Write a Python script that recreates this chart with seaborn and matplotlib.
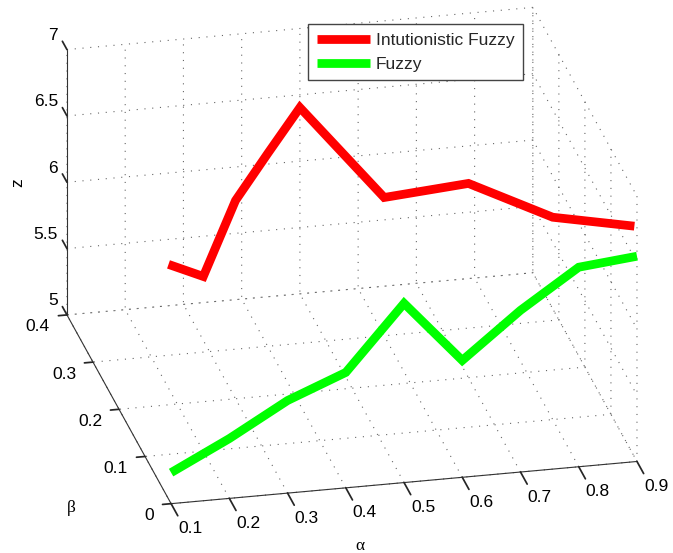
import pandas as pd
import matplotlib
matplotlib.use("Agg")
import matplotlib.pyplot as plt
from mpl_toolkits.mplot3d import proj3d
import seaborn as sns

alpha_fuzzy = [0.1, 0.2, 0.3, 0.4, 0.5, 0.6, 0.7, 0.8, 0.9]
beta_fuzzy = [0, 0, 0, 0, 0, 0, 0, 0, 0]
z_fuzzy = [5.234, 5.451, 5.698, 5.870, 6.351, 5.881, 6.219, 6.504, 6.547]

alpha_intuit = [0.1, 0.2, 0.3, 0.4, 0.5, 0.6, 0.7, 0.8, 0.9]
beta_intuit = [0.01, 0.1, 0.2, 0.3, 0.4, 0.3, 0.2, 0.1, 0.01]
z_intuit = [6.768, 6.317, 6.494, 6.453, 6.404, 6.042, 6.464, 6.525, 6.738]

alpha_ticks = [0.1, 0.2, 0.3, 0.4, 0.5, 0.6, 0.7, 0.8, 0.9]
beta_ticks = [0, 0.1, 0.2, 0.3, 0.4]
z_ticks = [5, 5.5, 6, 6.5, 7]

df = pd.concat([
    pd.DataFrame({"alpha": alpha_intuit, "beta": beta_intuit, "z": z_intuit, "kind": "Intutionistic Fuzzy"}),
    pd.DataFrame({"alpha": alpha_fuzzy, "beta": beta_fuzzy, "z": z_fuzzy, "kind": "Fuzzy"}),
])

sns.set_theme(style="white", rc={
    "grid.color": "#666666",
    "grid.linestyle": (0, (1, 6)),
    "grid.linewidth": 0.8,
    "axes.edgecolor": "#333333",
    "axes.linewidth": 0.8,
})
plt.rcParams["font.family"] = ["Liberation Sans", "DejaVu Sans"]
colors = {"Intutionistic Fuzzy": "#ff0000", "Fuzzy": "#00ff00"}

fig = plt.figure(figsize=(6.73, 5.53), dpi=100)
ax = fig.add_axes([8 / 673, 13.5 / 553, 1, 1], projection="3d", proj_type="ortho")
ax.view_init(elev=23.9, azim=-102.6)
ax.set_box_aspect((477, 477, 290), zoom=1.29)

for kind, group in df.groupby("kind", sort=False):
    ax.plot(group["alpha"], group["beta"], group["z"], color=colors[kind], lw=6.3,
            solid_capstyle="butt", solid_joinstyle="miter", label=kind, clip_on=False)

ax.set_xlim(0.1, 0.9)
ax.set_ylim(0, 0.4)
ax.set_zlim(5, 7)
ax.set_xticks(alpha_ticks)
ax.set_yticks(beta_ticks)
ax.set_zticks(z_ticks)
ax.grid(True)

for axis in (ax.xaxis, ax.yaxis, ax.zaxis):
    axis.set_pane_color((1, 1, 1, 0))
    axis.pane.set_edgecolor((1, 1, 1, 0))
    axis._axinfo["tick"]["color"] = "#333333"
    # tick labels are placed by hand below
    for tick in axis.get_major_ticks():
        tick.label1.set_visible(False)
        tick.label2.set_visible(False)

# ticks point away from the box like the matlab ones
ax.xaxis._axinfo["tick"].update(inward_factor=0.8, outward_factor=0)
ax.yaxis._axinfo["tick"].update(inward_factor=0.23, outward_factor=0)
ax.zaxis._axinfo["tick"].update(inward_factor=0, outward_factor=0.55)
ax.zaxis._get_tickdir = lambda pos: 1


def put_label(x, y, z, text, **kwargs):
    # project first so the label is a plain 2d text
    px, py, _ = proj3d.proj_transform(x, y, z, ax.get_proj())
    ax.text2D(px, py, text, transform=ax.transData, fontsize=12.5, color="black", va="center", **kwargs)


for v in alpha_ticks:
    put_label(v + 0.0086, -0.0539, 5, str(v), ha="center")
for v in beta_ticks:
    put_label(0.1 - 0.0386, v - 0.0211, 5, str(v), ha="right")
for v in z_ticks:
    put_label(0.1 - 0.0021, 0.4 + 0.0299, v, str(v), ha="right")

put_label(0.3714, -0.119, 5, "α", family="Liberation Serif", ha="center")
put_label(-0.0672, 0.0101, 5, "β", family="Liberation Serif", ha="center")
put_label(0.02, 0.409, 6, "z", rotation=90, ha="center")

fig.legend(loc="upper left", bbox_to_anchor=(308 / 673, 1 - 24 / 553), fontsize=12.5, frameon=True,
           fancybox=False, edgecolor="#444444", framealpha=1, borderaxespad=0, handlelength=3.05,
           handletextpad=0.35, borderpad=0.5, labelspacing=0.5)

fig.savefig("out.png", dpi=100)
